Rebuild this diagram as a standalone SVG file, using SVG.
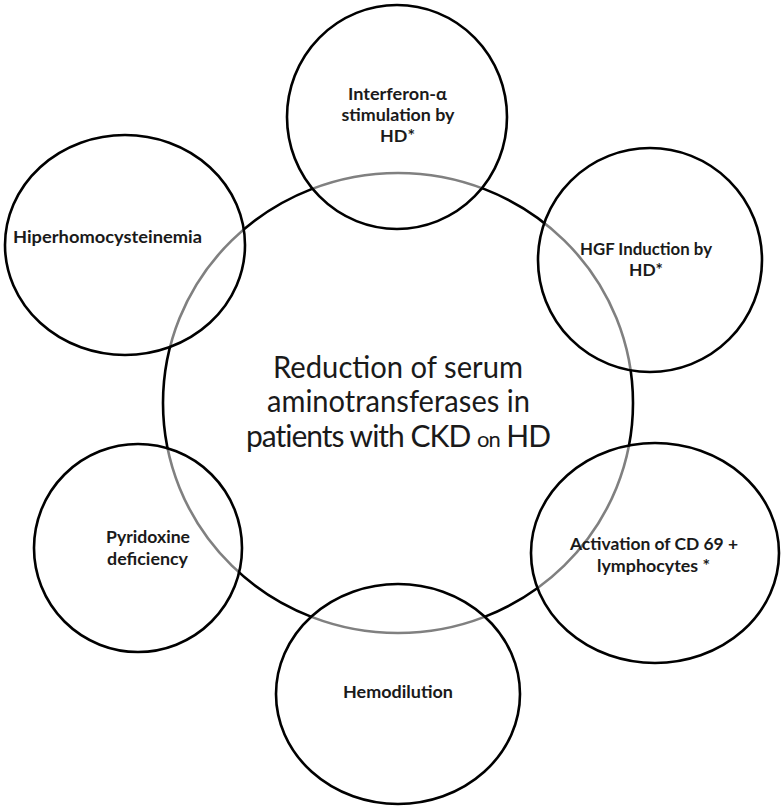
<svg xmlns="http://www.w3.org/2000/svg" width="782" height="808" viewBox="0 0 782 808">
<style>
.c{fill:#ffffff;fill-opacity:0.5;stroke:#000;stroke-width:2.6}
.big{fill:none;stroke:#000;stroke-width:2.6}
.t{font-family:Lato,"Open Sans",sans-serif;font-weight:bold;font-size:17px;fill:#1a1a1a;text-anchor:middle}
.m{font-family:Lato,"Open Sans",sans-serif;font-size:30px;fill:#1a1a1a}
</style>
<rect width="782" height="808" fill="#fff"/>
<g id="center">
<ellipse class="big" cx="398" cy="403" rx="235" ry="230"/>
<text class="m" x="273" y="378" textLength="250" lengthAdjust="spacingAndGlyphs">Reduction of serum</text>
<text class="m" x="267" y="412" textLength="263" lengthAdjust="spacingAndGlyphs">aminotransferases in</text>
<text class="m" x="398" y="447" text-anchor="middle" font-size="28" letter-spacing="-1">patients with CKD <tspan font-size="22">on</tspan> HD</text>
</g>
<g id="connectors"></g>
<g id="interferon">
<ellipse class="c" cx="397" cy="117" rx="110" ry="112"/>
<text class="t" x="397.5" y="100" textLength="99" lengthAdjust="spacingAndGlyphs">Interferon-α</text>
<text class="t" x="398" y="121" textLength="113" lengthAdjust="spacingAndGlyphs">stimulation by</text>
<text class="t" x="397.5" y="142" textLength="35" lengthAdjust="spacingAndGlyphs">HD*</text>
</g>
<g id="hgf">
<ellipse class="c" cx="650" cy="260" rx="112" ry="112"/>
<text class="t" x="646" y="255" textLength="132" lengthAdjust="spacingAndGlyphs">HGF Induction by</text>
<text class="t" x="646" y="276" textLength="34" lengthAdjust="spacingAndGlyphs">HD*</text>
</g>
<g id="activation">
<ellipse class="c" cx="655" cy="553" rx="124" ry="110"/>
<text class="t" x="654" y="550" textLength="168" lengthAdjust="spacingAndGlyphs">Activation of CD 69 +</text>
<text class="t" x="653.5" y="572" textLength="113" lengthAdjust="spacingAndGlyphs">lymphocytes *</text>
</g>
<g id="hemodilution">
<ellipse class="c" cx="398" cy="694" rx="122" ry="110"/>
<text class="t" x="398" y="698" textLength="110" lengthAdjust="spacingAndGlyphs">Hemodilution</text>
</g>
<g id="pyridoxine">
<ellipse class="c" cx="138" cy="548" rx="104" ry="104"/>
<text class="t" x="148" y="543" textLength="84" lengthAdjust="spacingAndGlyphs">Pyridoxine</text>
<text class="t" x="147.5" y="565" textLength="81" lengthAdjust="spacingAndGlyphs">deficiency</text>
</g>
<g id="hiper">
<ellipse class="c" cx="125" cy="245" rx="120" ry="110"/>
<text class="t" x="107.5" y="243" textLength="189" lengthAdjust="spacingAndGlyphs">Hiperhomocysteinemia</text>
</g>
</svg>
